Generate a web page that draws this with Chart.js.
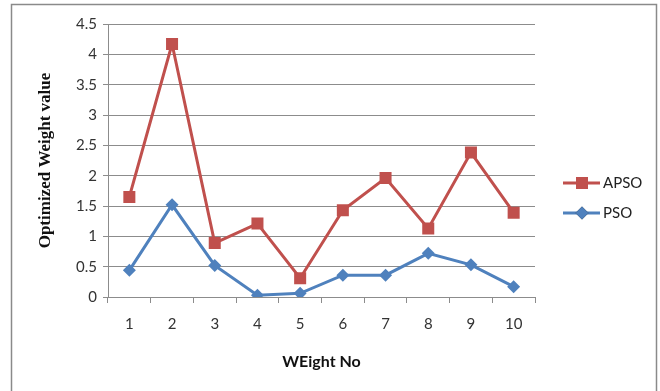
<!DOCTYPE html>
<html>
<head>
<meta charset="utf-8">
<script src="https://cdn.jsdelivr.net/npm/chart.js@4.4.1/dist/chart.umd.min.js"></script>
<style>
  html, body { margin: 0; padding: 0; background: #fff; }
  #wrap { width: 660px; height: 391px; position: relative; }
</style>
</head>
<body>
<div id="wrap"><canvas id="c" width="660" height="391"></canvas></div>
<script>
const categories = ['1', '2', '3', '4', '5', '6', '7', '8', '9', '10'];
const apsoValues = [1.65, 4.17, 0.89, 1.21, 0.31, 1.43, 1.96, 1.13, 2.38, 1.39];
const psoValues  = [0.44, 1.52, 0.52, 0.03, 0.06, 0.36, 0.36, 0.72, 0.53, 0.17];
const seriesNames = ['APSO', 'PSO'];
const yTitle = 'Optimized Weight value';
const xTitle = 'WEight No';

const RED = '#C0504D';
const BLUE = '#4F81BD';
const GRID = '#8c8c8c';
const TICKFONT = { family: 'Lato, "Liberation Sans", sans-serif', size: 15 };

const borderPlugin = {
  id: 'outerBorder',
  beforeDraw(chart) {
    const ctx = chart.ctx;
    ctx.save();
    ctx.strokeStyle = '#8a8a8a';
    ctx.lineWidth = 1.5;
    ctx.strokeRect(11.5, 4.5, 645, 400);
    ctx.restore();
  }
};

const legendPlugin = {
  id: 'lineLegend',
  afterDraw(chart) {
    const ctx = chart.ctx;
    const items = [
      { ds: chart.data.datasets[0], y: 183 },
      { ds: chart.data.datasets[1], y: 213 }
    ];
    ctx.save();
    items.forEach(it => {
      const x0 = 563, x1 = 600, xm = 582;
      ctx.strokeStyle = it.ds.borderColor;
      ctx.lineWidth = 3;
      ctx.beginPath();
      ctx.moveTo(x0, it.y);
      ctx.lineTo(x1, it.y);
      ctx.stroke();
      Chart.helpers.drawPoint(ctx, {
        pointStyle: it.ds.pointStyle,
        radius: it.ds.pointStyle === 'rect' ? 8.5 : 6.5,
        borderWidth: 0
      }, xm, it.y);
      ctx.fillStyle = it.ds.borderColor;
      ctx.fill();
      ctx.fillStyle = '#222';
      ctx.font = '15px Lato, "Liberation Sans", sans-serif';
      ctx.textBaseline = 'middle';
      ctx.textAlign = 'left';
      ctx.fillText(it.ds.label, 603, it.y);
    });
    ctx.restore();
  }
};

new Chart(document.getElementById('c'), {
  type: 'line',
  data: {
    labels: categories,
    datasets: [
      {
        label: seriesNames[0],
        data: apsoValues,
        borderColor: RED,
        backgroundColor: RED,
        borderWidth: 3,
        pointStyle: 'rect',
        pointRadius: 8.5,
        pointHoverRadius: 8.5,
        pointBorderWidth: 0,
        tension: 0
      },
      {
        label: seriesNames[1],
        data: psoValues,
        borderColor: BLUE,
        backgroundColor: BLUE,
        borderWidth: 3,
        pointStyle: 'rectRot',
        pointRadius: 6.5,
        pointHoverRadius: 6.5,
        pointBorderWidth: 0,
        tension: 0
      }
    ]
  },
  options: {
    responsive: false,
    animation: false,
    devicePixelRatio: 1,
    layout: { padding: { left: 0, right: 125, top: 24, bottom: 0 } },
    plugins: {
      legend: { display: false },
      tooltip: { enabled: false }
    },
    scales: {
      x: {
        type: 'category',
        offset: true,
        grid: {
          display: true,
          offset: true,
          drawOnChartArea: false,
          drawTicks: true,
          tickLength: 6,
          color: GRID,
          lineWidth: 1
        },
        border: { display: true, color: GRID, width: 1 },
        ticks: { color: '#333', font: TICKFONT, padding: 12, maxRotation: 0 },
        title: {
          display: true,
          text: xTitle,
          color: '#111',
          font: { family: 'Lato, "Liberation Sans", sans-serif', size: 16, weight: 'bold' },
          padding: { top: 0, bottom: 20 }
        },
        afterFit(scale) { scale.height = 94; }
      },
      y: {
        min: 0,
        max: 4.5,
        ticks: {
          stepSize: 0.5,
          color: '#333',
          font: TICKFONT,
          padding: 6,
          callback: v => String(v)
        },
        grid: { color: GRID, lineWidth: 1, tickLength: 5, drawTicks: true },
        border: { display: true, color: GRID, width: 1 },
        title: {
          display: true,
          text: yTitle,
          color: '#111',
          font: { family: '"Liberation Serif", "Times New Roman", serif', size: 17, weight: 'bold' },
          padding: { top: 35, bottom: 0 }
        },
        afterFit(scale) { scale.width = 108; }
      }
    }
  },
  plugins: [borderPlugin, legendPlugin]
});
</script>
</body>
</html>
